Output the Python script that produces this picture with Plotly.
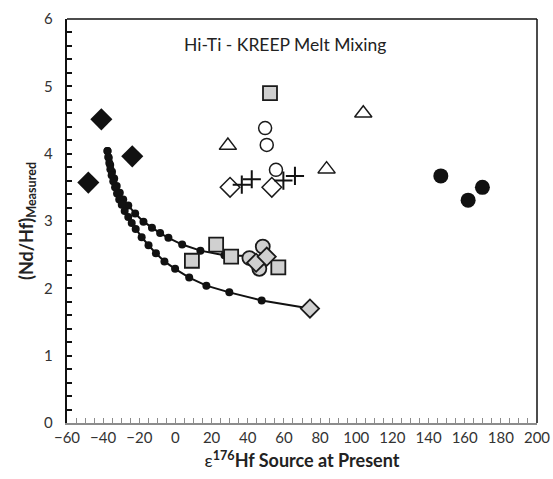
import plotly.graph_objects as go

# Mixing curve between the KREEP-like end member and two Hi-Ti source compositions
mix_a_x = [-37.6, -36.9, -36.1, -35.1, -33.9, -32.5, -30.8, -28.9, -26.1, -22.3,
           -17.7, -13.0, -8.5, -3.9, 3.7, 13.8, 27.1, 50.1]
mix_a_y = [4.04, 3.94, 3.83, 3.73, 3.63, 3.52, 3.42, 3.32, 3.23, 3.11,
           2.99, 2.90, 2.82, 2.75, 2.65, 2.56, 2.49, 2.47]

mix_b_x = [-37.6, -37.2, -36.6, -36.0, -35.3, -34.4, -33.4, -32.3, -31.1, -29.7,
           -28.1, -26.1, -24.2, -22.0, -18.7, -14.9, -10.8, -6.1, -0.2, 7.6,
           17.1, 29.8, 47.7, 74.4]
mix_b_y = [4.04, 3.95, 3.86, 3.77, 3.68, 3.59, 3.50, 3.41, 3.32, 3.24,
           3.15, 3.06, 2.97, 2.88, 2.76, 2.64, 2.52, 2.40, 2.29, 2.16,
           2.04, 1.94, 1.82, 1.70]

# Sample groups
kreep_x = [-41.0, -48.2, -23.9]
kreep_y = [4.51, 3.57, 3.96]

black_circ_x = [146.8, 169.8, 161.9]
black_circ_y = [3.67, 3.50, 3.31]

open_tri_x = [29.0, 83.6, 103.9]
open_tri_y = [4.12, 3.77, 4.60]

open_circ_x = [49.6, 50.5, 55.6]
open_circ_y = [4.38, 4.13, 3.76]

open_dia_x = [30.2, 53.3]
open_dia_y = [3.50, 3.50]

cross_x = [36.7, 42.2, 59.7, 66.1]
cross_y = [3.54, 3.62, 3.60, 3.67]

gray_sq_x = [52.3, 9.1, 22.5, 30.8, 56.9]
gray_sq_y = [4.90, 2.41, 2.65, 2.47, 2.31]

gray_circ_x = [48.3, 40.9, 46.4]
gray_circ_y = [2.62, 2.45, 2.29]

gray_dia_x = [44.6, 50.5, 74.4]
gray_dia_y = [2.38, 2.47, 1.70]

FONT = "Lato"
GRAY = "#d0d0d0"
EDGE = "#1a1a1a"

fig = go.Figure()

for xs, ys in [(mix_a_x, mix_a_y), (mix_b_x, mix_b_y)]:
    fig.add_trace(go.Scatter(
        x=xs, y=ys, mode="lines+markers",
        line=dict(color="#111111", width=2),
        marker=dict(symbol="circle", size=8, color="#111111"),
        showlegend=False, hoverinfo="skip"))

def pts(xs, ys, symbol, size, fill, lw=1.5, lc=EDGE):
    fig.add_trace(go.Scatter(
        x=xs, y=ys, mode="markers",
        marker=dict(symbol=symbol, size=size, color=fill,
                    line=dict(color=lc, width=lw)),
        showlegend=False))

pts(kreep_x, kreep_y, "diamond", 17, "#111111", 0)
pts(black_circ_x, black_circ_y, "circle", 15, "#111111", 0)
pts(open_tri_x, open_tri_y, "triangle-up", 15, "white", 1.5)
pts(open_circ_x, open_circ_y, "circle", 13, "white", 1.5)
pts(open_dia_x, open_dia_y, "diamond", 15, "white", 1.5)
pts(cross_x, cross_y, "cross-thin", 13, "#111111", 2, "#111111")
pts(gray_sq_x, gray_sq_y, "square", 14, GRAY, 1.8)
pts(gray_circ_x, gray_circ_y, "circle", 14, GRAY, 1.8)
pts(gray_dia_x, gray_dia_y, "diamond", 14, GRAY, 1.8)

fig.add_annotation(
    xref="paper", yref="paper", x=0.245, y=0.936,
    xanchor="left", yanchor="middle", showarrow=False,
    text="Hi-Ti - KREEP Melt Mixing",
    font=dict(family=FONT, size=17.5, color="#222222"))

# top and right borders of the plot frame
fig.add_shape(type="line", xref="paper", yref="paper",
              x0=0, x1=1, y0=1, y1=1,
              line=dict(color="#111111", width=1.5))
fig.add_shape(type="line", xref="paper", yref="paper",
              x0=1, x1=1, y0=0, y1=1,
              line=dict(color="#111111", width=1.5))

fig.update_layout(
    width=553, height=479,
    margin=dict(l=67, r=16, t=19, b=56, autoexpand=False),
    paper_bgcolor="white", plot_bgcolor="white",
    font=dict(family=FONT, size=15, color="#333333"),
    xaxis=dict(
        range=[-60, 200], tick0=-60, dtick=20, showgrid=False, zeroline=False,
        showline=True, linecolor="#8c8c8c", linewidth=1.5, automargin=False,
        ticks="inside", ticklen=5, tickcolor="#8c8c8c", tickwidth=1,
        minor=dict(dtick=5, ticks="inside", ticklen=5, tickcolor="#8c8c8c",
                   tickwidth=1, showgrid=False),
        tickfont=dict(family=FONT, size=15, color="#333333"),
        title=dict(text="<span style='font-weight:normal'>ε</span><sup>176</sup>Hf Source at Present",
                   font=dict(family=FONT, size=18, color="#222222", weight="bold"),
                   standoff=10)),
    yaxis=dict(
        range=[0, 6], tick0=0, dtick=1, showgrid=False, zeroline=False,
        showline=True, linecolor="#111111", linewidth=2, automargin=False,
        ticks="inside", ticklen=5, tickcolor="#111111", tickwidth=1.5,
        minor=dict(dtick=0.2, ticks="inside", ticklen=5, tickcolor="#111111",
                   tickwidth=1.5, showgrid=False),
        tickfont=dict(family=FONT, size=15, color="#333333"),
        ticksuffix="\u2002\u2009",
        title=dict(text="(Nd/Hf)<sub>Measured</sub>",
                   font=dict(family=FONT, size=18, color="#222222", weight="bold"),
                   standoff=6)),
)

fig.write_html("out.html")
